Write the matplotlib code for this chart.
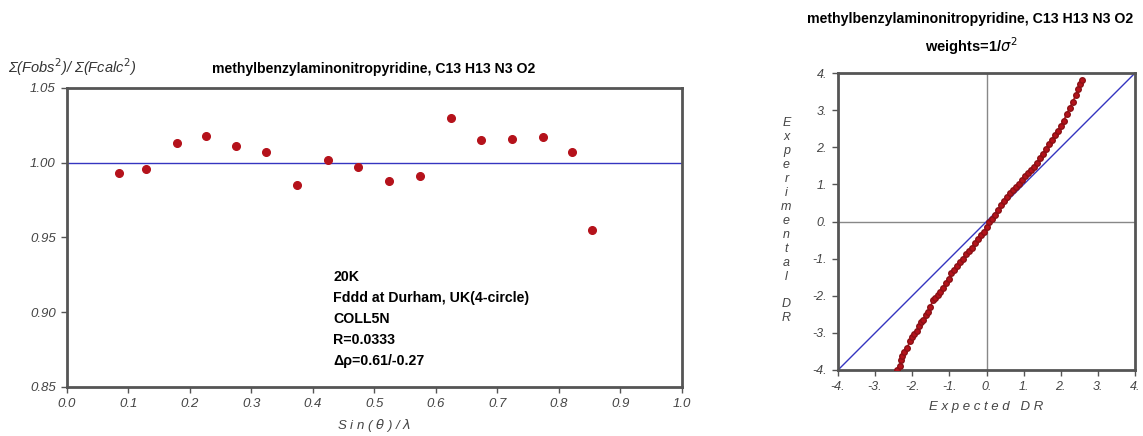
import matplotlib
matplotlib.use('Agg')
import matplotlib.pyplot as plt

plt.rcParams['font.family'] = ['Liberation Sans', 'DejaVu Sans']

# left panel: scale factor vs resolution
SINTH = [0.085, 0.128, 0.179, 0.226, 0.275, 0.324, 0.374, 0.424, 0.473,
         0.524, 0.574, 0.624, 0.673, 0.724, 0.774, 0.822, 0.854]
RATIO = [0.993, 0.996, 1.013, 1.018, 1.011, 1.007, 0.985, 1.002, 0.997,
         0.988, 0.991, 1.030, 1.015, 1.016, 1.017, 1.007, 0.955]

# right panel: normal probability plot
EXPECTED = [-2.41, -2.33, -2.31, -2.29, -2.21, -2.13, -2.07, -2.01, -1.95, -1.88,
            -1.82, -1.76, -1.70, -1.64, -1.57, -1.51, -1.45, -1.39, -1.31, -1.24,
            -1.17, -1.10, -1.02, -0.95, -0.88, -0.80, -0.72, -0.64, -0.56, -0.48,
            -0.40, -0.32, -0.24, -0.16, -0.08, 0.00, 0.08, 0.16, 0.24, 0.32,
            0.40, 0.48, 0.56, 0.64, 0.72, 0.80, 0.88, 0.96, 1.04, 1.12,
            1.20, 1.28, 1.36, 1.44, 1.52, 1.60, 1.68, 1.76, 1.84, 1.92,
            2.00, 2.08, 2.16, 2.24, 2.32, 2.40, 2.47, 2.52, 2.57]
EXPERIMENTAL = [-4.00, -3.88, -3.72, -3.62, -3.52, -3.40, -3.22, -3.10, -3.02, -2.96,
                -2.82, -2.72, -2.66, -2.52, -2.44, -2.30, -2.12, -2.06, -1.98, -1.90,
                -1.80, -1.66, -1.55, -1.40, -1.30, -1.20, -1.10, -1.00, -0.88, -0.80,
                -0.70, -0.58, -0.48, -0.36, -0.28, -0.14, -0.02, 0.06, 0.18, 0.30,
                0.44, 0.55, 0.66, 0.76, 0.86, 0.94, 1.02, 1.12, 1.24, 1.32,
                1.40, 1.48, 1.58, 1.70, 1.82, 1.95, 2.08, 2.20, 2.32, 2.44,
                2.58, 2.72, 2.90, 3.06, 3.22, 3.40, 3.56, 3.70, 3.80]

TITLE = 'methylbenzylaminonitropyridine, C13 H13 N3 O2'
INFO = ['20K', 'Fddd at Durham, UK(4-circle)', 'COLL5N', 'R=0.0333', '\u0394\u03c1=0.61/-0.27']

RED = '#b5121b'
BLUE = '#3535c0'
SPINE = '#555555'
TICKC = '#444444'

fig = plt.figure(figsize=(11.43, 4.36), dpi=100)

# ---- left plot
ax = fig.add_axes([0.0586, 0.1124, 0.538, 0.6858])
ax.axhline(1.0, color=BLUE, lw=1.0, zorder=1)
ax.plot(SINTH, RATIO, 'o', color=RED, ms=5.5, zorder=3)
ax.set_xlim(0, 1)
ax.set_ylim(0.85, 1.05)
ax.set_xticks([i / 10 for i in range(11)])
ax.set_xticklabels(['%.1f' % (i / 10) for i in range(11)])
ax.set_yticks([0.85, 0.90, 0.95, 1.00, 1.05])
ax.set_yticklabels(['0.85', '0.90', '0.95', '1.00', '1.05'])
for s in ax.spines.values():
    s.set_color(SPINE)
    s.set_linewidth(2)
ax.tick_params(direction='out', length=4, width=1, color=SPINE, labelcolor=TICKC,
               labelsize=9.5, pad=4)
for lbl in ax.get_xticklabels() + ax.get_yticklabels():
    lbl.set_style('italic')
ax.set_xlabel('S i n ( $\\theta$ ) / $\\lambda$', fontsize=9.5, style='italic', color=TICKC, labelpad=5)
fig.text(0.007, 0.833, '\u03a3(Fobs$^2$)/ \u03a3(Fcalc$^2$)', fontsize=10.5, style='italic', color='#333333')
fig.text(0.327, 0.833, TITLE, fontsize=10.1, fontweight='bold', ha='center')
ax.text(0.433, 0.39, '\n'.join(INFO), transform=ax.transAxes, fontsize=10.2,
        fontweight='bold', va='top', linespacing=1.62)

# ---- right plot
ax2 = fig.add_axes([0.7332, 0.1514, 0.2598, 0.681])
ax2.axhline(0, color='#888888', lw=1.0, zorder=1)
ax2.axvline(0, color='#888888', lw=1.0, zorder=1)
ax2.plot([-4, 4], [-4, 4], color=BLUE, lw=1.0, zorder=2)
ax2.plot(EXPECTED, EXPERIMENTAL, '-o', color=RED, lw=1.2, ms=4, mec='#8a1015', zorder=3)
ax2.set_xlim(-4, 4)
ax2.set_ylim(-4, 4)
ticks = [-4, -3, -2, -1, 0, 1, 2, 3, 4]
ax2.set_xticks(ticks)
ax2.set_xticklabels(['%d.' % t for t in ticks])
ax2.set_yticks(ticks)
ax2.set_yticklabels(['%d.' % t for t in ticks])
for s in ax2.spines.values():
    s.set_color(SPINE)
    s.set_linewidth(2)
ax2.tick_params(direction='out', length=4, width=1, color=SPINE, labelcolor=TICKC,
                labelsize=9, pad=4)
for lbl in ax2.get_xticklabels() + ax2.get_yticklabels():
    lbl.set_style('italic')
ax2.set_xlabel('E x p e c t e d   D R', fontsize=9.5, style='italic', color=TICKC, labelpad=6)
fig.text(0.688, 0.494, '\n'.join('Experimental') + '\n\n' + '\n'.join('DR'), fontsize=9,
         style='italic', color=TICKC, ha='center', va='center', linespacing=1.22)
fig.text(0.849, 0.948, TITLE, fontsize=10.2, fontweight='bold', ha='center')
fig.text(0.850, 0.88, 'weights=1/$\\sigma^2$', fontsize=10.5, fontweight='bold', ha='center')

fig.savefig('out.png', dpi=100)
